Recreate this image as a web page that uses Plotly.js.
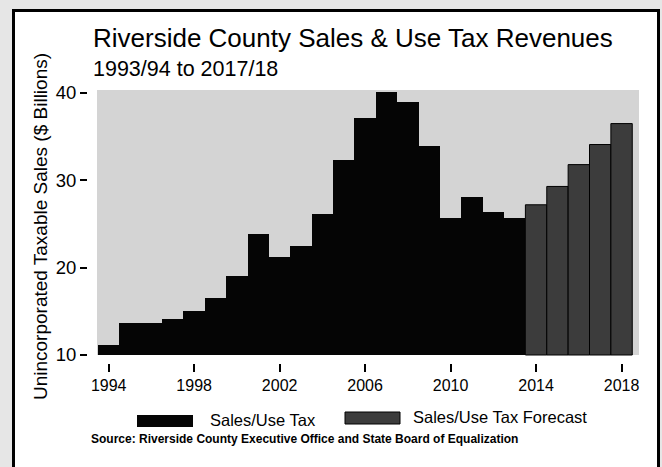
<!DOCTYPE html>
<html>
<head>
<meta charset="utf-8">
<script src="https://cdn.plot.ly/plotly-3.0.1.min.js"></script>
<style>
  html, body { margin: 0; padding: 0; }
  body { width: 662px; height: 467px; background: #e6e6e6; position: relative; overflow: hidden; }
  #frame { position: absolute; left: 12px; top: 9px; width: 642px; height: 470px;
           background: #ffffff; border-left: 3px solid #000; border-top: 3px solid #000; border-right: 3px solid #000; }
  #chart { position: absolute; left: 0; top: 0; width: 662px; height: 467px; }
</style>
</head>
<body>
<div id="frame"></div>
<div id="chart"></div>
<script>
// ---- data ----
const salesYears = [1994, 1995, 1996, 1997, 1998, 1999, 2000, 2001, 2002, 2003,
                    2004, 2005, 2006, 2007, 2008, 2009, 2010, 2011, 2012, 2013];
const salesValues = [11.1, 13.7, 13.7, 14.1, 15.0, 16.5, 19.0, 23.9, 21.2, 22.5,
                     26.2, 32.3, 37.1, 40.1, 39.0, 33.9, 25.7, 28.1, 26.4, 25.7];
const forecastYears = [2014, 2015, 2016, 2017, 2018];
const forecastValues = [27.2, 29.3, 31.8, 34.1, 36.5];
const xTickVals = [1994, 1998, 2002, 2006, 2010, 2014, 2018];
const yTickVals = [10, 20, 30, 40];
const baseValue = 10;

// ---- layout geometry (page pixels) ----
const W = 662, H = 467;
const L = 88, R = 639, T = 90, B = 363;
const px2x = p => (p - L) / (R - L);
const px2y = p => (B - p) / (B - T);
const FONT = '"Liberation Sans", Arial, Helvetica, sans-serif';

const traces = [
  {
    type: 'bar', name: 'Sales/Use Tax',
    x: salesYears, y: salesValues.map(v => v - baseValue), base: baseValue,
    width: 1, marker: { color: '#050505', line: { width: 0 } },
    showlegend: false,
    customdata: salesValues, hovertemplate: '%{x}: %{customdata}<extra></extra>'
  },
  {
    type: 'bar', name: 'Sales/Use Tax Forecast',
    x: forecastYears, y: forecastValues.map(v => v - baseValue), base: baseValue,
    width: 1, marker: { color: '#3c3c3c', line: { color: '#000', width: 1 } },
    showlegend: false,
    customdata: forecastValues, hovertemplate: '%{x}: %{customdata}<extra></extra>'
  }
];

const layout = {
  width: W, height: H,
  margin: { l: L, r: W - R, t: T, b: H - B, pad: 0 },
  paper_bgcolor: 'rgba(0,0,0,0)',
  plot_bgcolor: 'rgba(0,0,0,0)',
  barmode: 'overlay', bargap: 0,
  font: { family: FONT, color: '#000' },
  xaxis: {
    range: [1993.5 - 10 / 21.37, 2018.816],
    tickvals: xTickVals, ticktext: xTickVals.map(String),
    ticks: 'outside', ticklen: 8, tickwidth: 2, tickcolor: '#000',
    showgrid: false, zeroline: false, showline: false,
    tickfont: { size: 16, family: FONT, color: '#000' }
  },
  yaxis: {
    range: [10 - 8 / 8.733, 10 + 265 / 8.733],
    tickvals: yTickVals, ticktext: yTickVals.map(String),
    ticks: 'outside', ticklen: 7, tickwidth: 2, tickcolor: '#000',
    showgrid: false, zeroline: false, showline: false,
    tickfont: { size: 18.5, family: FONT, color: '#000' },
    title: { text: 'Unincorporated Taxable Sales ($ Billions)', standoff: 3,
             font: { size: 19, family: FONT, color: '#000' } }
  },
  shapes: [
    { type: 'rect', xref: 'paper', yref: 'paper', layer: 'below',
      x0: px2x(97), x1: 1, y0: px2y(355), y1: 1,
      fillcolor: '#d4d4d4', line: { width: 0 } },
    { type: 'rect', xref: 'paper', yref: 'paper',
      x0: px2x(137), x1: px2x(193), y0: px2y(427), y1: px2y(415),
      fillcolor: '#050505', line: { width: 0 } },
    { type: 'rect', xref: 'paper', yref: 'paper',
      x0: px2x(345), x1: px2x(400), y0: px2y(424), y1: px2y(412),
      fillcolor: '#3c3c3c', line: { color: '#000', width: 1 } }
  ],
  annotations: [
    { xref: 'paper', yref: 'paper', x: px2x(91), y: px2y(37.5), xanchor: 'left', yanchor: 'middle',
      text: 'Riverside County Sales &amp; Use Tax Revenues', showarrow: false,
      font: { size: 26, family: FONT, color: '#000' } },
    { xref: 'paper', yref: 'paper', x: px2x(91), y: px2y(69), xanchor: 'left', yanchor: 'middle',
      text: '1993/94 to 2017/18', showarrow: false,
      font: { size: 21.5, family: FONT, color: '#000' } },
    { xref: 'paper', yref: 'paper', x: px2x(208), y: px2y(420), xanchor: 'left', yanchor: 'middle',
      text: 'Sales/Use Tax', showarrow: false,
      font: { size: 16.5, family: FONT, color: '#000' } },
    { xref: 'paper', yref: 'paper', x: px2x(411), y: px2y(417), xanchor: 'left', yanchor: 'middle',
      text: 'Sales/Use Tax Forecast', showarrow: false,
      font: { size: 16.5, family: FONT, color: '#000' } },
    { xref: 'paper', yref: 'paper', x: px2x(89), y: px2y(439), xanchor: 'left', yanchor: 'middle',
      text: '<b>Source: Riverside County Executive Office and State Board of Equalization</b>', showarrow: false,
      font: { size: 12, family: FONT, color: '#000' } }
  ]
};

Plotly.newPlot('chart', traces, layout, { displayModeBar: false, staticPlot: true });
</script>
</body>
</html>
